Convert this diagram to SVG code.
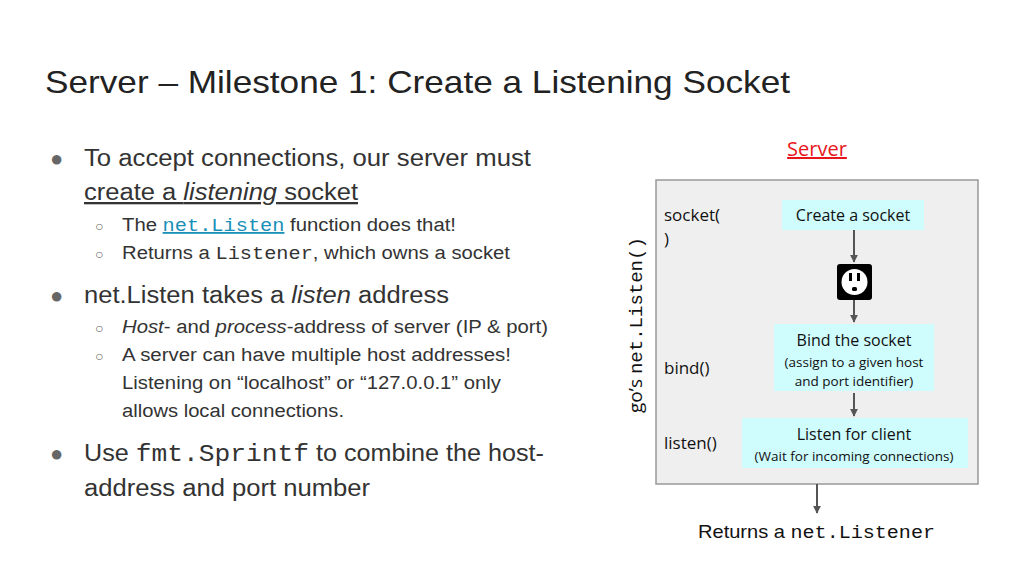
<svg xmlns="http://www.w3.org/2000/svg" width="1024" height="576" viewBox="0 0 1024 576">
<style>
.s{font-family:"Liberation Sans",Arial,sans-serif;fill:#333}
.m{font-family:"Liberation Mono","DejaVu Sans Mono",monospace}
.o{font-family:"Open Sans","Noto Sans",sans-serif;fill:#111}
.b{fill:#cffcfd}
.c{stroke:#555;stroke-width:2;fill:none;marker-end:url(#a)}
</style>
<defs><marker id="a" viewBox="0 0 10 10" refX="9" refY="5" markerWidth="4" markerHeight="4" orient="auto"><path d="M0,0L10,5L0,10z" fill="#555"/></marker></defs>
<rect width="1024" height="576" fill="#fff"/>
<text x="45" y="93" class="s" font-size="32" textLength="745" lengthAdjust="spacingAndGlyphs" style="fill:#222">Server – Milestone 1: Create a Listening Socket</text>
<g class="s">
<text x="50" y="166" font-size="22" style="fill:#666">●</text>
<text x="84" y="166" font-size="23" textLength="447" lengthAdjust="spacingAndGlyphs">To accept connections, our server must</text>
<text x="84" y="200" font-size="23" text-decoration="underline" textLength="274" lengthAdjust="spacingAndGlyphs">create a <tspan font-style="italic">listening</tspan> socket</text>
<text x="95" y="231" font-size="14" style="fill:#666">○</text>
<text x="122" y="231" font-size="18" textLength="334" lengthAdjust="spacingAndGlyphs">The <tspan class="m" style="fill:#1a8fb8" text-decoration="underline">net.Listen</tspan> function does that!</text>
<text x="95" y="259" font-size="14" style="fill:#666">○</text>
<text x="122" y="259" font-size="18" textLength="388" lengthAdjust="spacingAndGlyphs">Returns a <tspan class="m">Listener</tspan>, which owns a socket</text>
<text x="50" y="303" font-size="22" style="fill:#666">●</text>
<text x="84" y="303" font-size="23" textLength="365" lengthAdjust="spacingAndGlyphs">net.Listen takes a <tspan font-style="italic">listen</tspan> address</text>
<text x="95" y="333" font-size="14" style="fill:#666">○</text>
<text x="122" y="333" font-size="18" textLength="426" lengthAdjust="spacingAndGlyphs"><tspan font-style="italic">Host</tspan>- and <tspan font-style="italic">process</tspan>-address of server (IP &amp; port)</text>
<text x="95" y="361" font-size="14" style="fill:#666">○</text>
<text x="122" y="361" font-size="18" textLength="389" lengthAdjust="spacingAndGlyphs">A server can have multiple host addresses!</text>
<text x="122" y="389" font-size="18" textLength="379" lengthAdjust="spacingAndGlyphs">Listening on “localhost” or “127.0.0.1” only</text>
<text x="122" y="417" font-size="18" textLength="222" lengthAdjust="spacingAndGlyphs">allows local connections.</text>
<text x="50" y="461" font-size="22" style="fill:#666">●</text>
<text x="84" y="461" font-size="23" textLength="460" lengthAdjust="spacingAndGlyphs">Use <tspan class="m" font-size="24">fmt.Sprintf</tspan> to combine the host-</text>
<text x="84" y="496" font-size="23" textLength="286" lengthAdjust="spacingAndGlyphs">address and port number</text>
</g>
<text x="817" y="156" class="o" font-size="20" text-anchor="middle" style="fill:#e8141c" text-decoration="underline">Server</text>
<rect x="656" y="180" width="322" height="304" fill="#efefef" stroke="#999" stroke-width="1.5"/>
<text transform="translate(642,413) rotate(-90)" class="o" font-size="19">go’s <tspan class="m" font-size="19">net.Listen()</tspan></text>
<g class="o" font-size="17">
<text x="664" y="221">socket(</text>
<text x="664" y="245">)</text>
<text x="664" y="374">bind()</text>
<text x="664" y="449">listen()</text>
</g>
<g id="create"><rect class="b" x="782" y="200" width="142" height="30"/><text x="853" y="221" class="o" font-size="16" text-anchor="middle">Create a socket</text></g>
<g id="socket"><rect x="837" y="264" width="35" height="36" rx="3" fill="#000"/><circle cx="854.5" cy="282" r="13" fill="#fff"/><rect x="849" y="273" width="3" height="8" fill="#000"/><rect x="857" y="273" width="3" height="8" fill="#000"/><rect x="852" y="287" width="5" height="4" rx="1.5" fill="#000"/></g>
<g id="bind"><rect class="b" x="774" y="324" width="160" height="67"/><text x="854" y="346" class="o" font-size="16" text-anchor="middle">Bind the socket</text><text x="854" y="367" class="o" font-size="13.5" text-anchor="middle">(assign to a given host</text><text x="854" y="386" class="o" font-size="13.5" text-anchor="middle">and port identifier)</text></g>
<g id="listen"><rect class="b" x="742" y="418" width="226" height="50"/><text x="854" y="440" class="o" font-size="16" text-anchor="middle">Listen for client</text><text x="854" y="461" class="o" font-size="13.5" text-anchor="middle">(Wait for incoming connections)</text></g>
<g id="connectors">
<line class="c" x1="854" y1="230" x2="854" y2="262"/>
<line class="c" x1="854" y1="300" x2="854" y2="322"/>
<line class="c" x1="854" y1="393" x2="854" y2="416"/>
<line class="c" x1="817" y1="484" x2="817" y2="513"/>
</g>
<text x="698" y="538" class="s" font-size="19" textLength="237" lengthAdjust="spacingAndGlyphs" style="fill:#111">Returns a <tspan class="m" font-size="19">net.Listener</tspan></text>
</svg>
